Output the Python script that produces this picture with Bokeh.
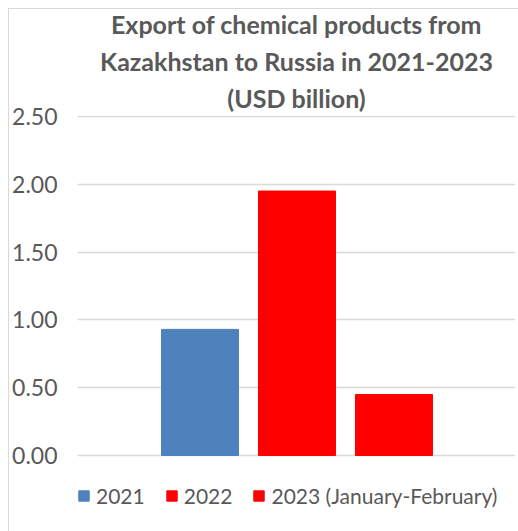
from bokeh.plotting import figure
from bokeh.models import Range1d, Title, Legend, LegendItem, ColumnDataSource, FixedTicker, NumeralTickFormatter, InlineStyleSheet
from bokeh.embed import file_html
from bokeh.resources import INLINE

series = ["2021", "2022", "2023 (January-February)"]
values = [0.93, 1.95, 0.45]
colors = ["#4f81bd", "#ff0000", "#ff0000"]
y_ticks = [0.0, 0.5, 1.0, 1.5, 2.0, 2.5]
title_lines = ["Export of chemical products from", "Kazakhstan to Russia in 2021-2023", "(USD billion)"]

FONT = "Lato"
GREY = "#595959"

src = ColumnDataSource(dict(x=list(range(len(series))), top=values, color=colors, label=series))

border_css = InlineStyleSheet(css=""":host::after { content: ''; position: absolute; left: 8px; top: 8px;
  right: 0; bottom: 0; border-left: 1px solid #d9d9d9; border-top: 1px solid #d9d9d9;
  pointer-events: none; }""")

# frame extends below zero so the legend can sit inside it, under the bars
p = figure(width=518, height=531, output_backend="svg", toolbar_location=None,
           x_range=Range1d(-1.263, 3.253), y_range=Range1d(-0.5236, 2.507),
           min_border_left=77, min_border_right=3, min_border_bottom=5, min_border_top=115,
           stylesheets=[border_css])
p.outline_line_color = None

r = p.vbar(x="x", top="top", width=0.794, color="color", source=src)

p.xaxis.visible = False
p.xgrid.visible = False
p.yaxis.ticker = FixedTicker(ticks=y_ticks)
p.yaxis.formatter = NumeralTickFormatter(format="0.00")
p.yaxis.axis_line_color = None
p.yaxis.major_tick_line_color = None
p.yaxis.minor_tick_line_color = None
p.yaxis.major_label_text_font = FONT
p.yaxis.major_label_text_font_size = "23px"
p.yaxis.major_label_text_color = GREY
p.yaxis.major_label_standoff = 14
p.ygrid.grid_line_color = "#d9d9d9"
p.ygrid.grid_line_width = 1.5

for line in reversed(title_lines):
    t = Title(text=line, align="center", text_font=FONT, text_font_size="25px",
              text_font_style="bold", text_color=GREY, standoff=5)
    p.add_layout(t, "above")

items = [LegendItem(label=s, renderers=[r], index=i) for i, s in enumerate(series)]
legend = Legend(items=items, orientation="horizontal", location=(0, 18),
                label_text_font=FONT, label_text_font_size="21px", label_text_color=GREY,
                glyph_width=13, glyph_height=13, label_standoff=6, spacing=20,
                border_line_color=None, background_fill_alpha=0, padding=0, margin=0)
p.add_layout(legend, "center")

open("out.html", "w").write(file_html(p, INLINE))
